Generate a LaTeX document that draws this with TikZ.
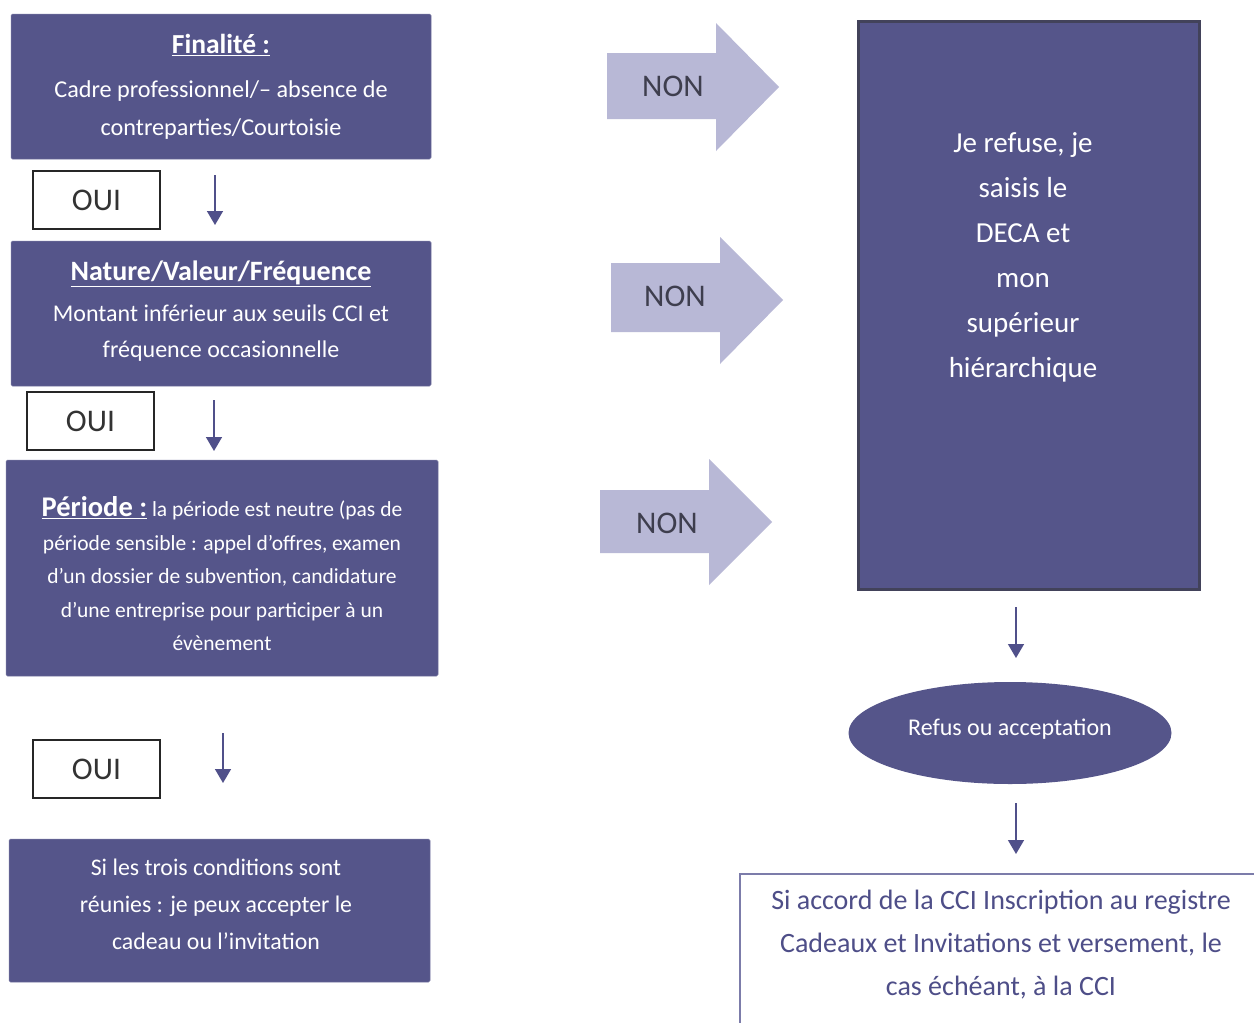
\documentclass[tikz,border=0pt]{standalone}
\usepackage{fontspec}
\setmainfont{Carlito}
\usetikzlibrary{arrows.meta,shapes.geometric}
\definecolor{boxfill}{HTML}{55558A}
\definecolor{arrfill}{HTML}{B8B8D6}
\definecolor{arrline}{HTML}{50508A}
\definecolor{nontext}{HTML}{3E3E4E}
\definecolor{bottext}{HTML}{4E4E88}
\definecolor{botline}{HTML}{7C7CAA}
\definecolor{bigborder}{HTML}{42425A}
\begin{document}
\begin{tikzpicture}[x=1pt,y=-1pt,
 darkbox/.style={draw=boxfill!80!white, line width=0.5pt, fill=boxfill, rounded corners=1.5pt, inner sep=0pt},
 boxtext/.style={text=white, align=center, inner sep=0pt},
 ouibox/.style={draw=black!85, line width=1.2pt, minimum width=127pt, minimum height=58pt, font=\fontsize{31.5}{34}\selectfont, text=black!80, inner sep=0pt},
 flow/.style={draw=arrline, line width=1.5pt, -{Triangle[width=16pt,length=14pt]}},
 nonarrow/.style={fill=arrfill, draw=none},
 nonlabel/.style={font=\fontsize{31.5}{34}\selectfont, text=nontext}]
\useasboundingbox (0,0) rectangle (1254,1023);
\fill[white] (0,0) rectangle (1254,1023);

% left column
\node[darkbox, minimum width=420pt, minimum height=145pt] (b1) at (221,86.5) {};
\node[boxtext, font=\fontsize{24.2}{38}\selectfont] (b1t) at (221,87)
 {{\fontsize{27.5}{38}\selectfont\textbf{\underline{Finalité :}}}\\[6pt]Cadre professionnel/– absence de\\contreparties/Courtoisie};
\node[ouibox] (oui1) at (96.5,200) {OUI};
\coordinate (a1s) at (215,175); \coordinate (a1e) at (215,225);
\draw[flow] (a1s) -- (a1e);

\node[darkbox, minimum width=420pt, minimum height=145pt] (b2) at (221,313.5) {};
\node[boxtext, font=\fontsize{24}{36}\selectfont] (b2t) at (221,311)
 {{\fontsize{28}{36}\selectfont\textbf{\underline{Nature/Valeur/Fréquence}}}\\[5pt]Montant inférieur aux seuils CCI et\\fréquence occasionnelle};
\node[ouibox] (oui2) at (90.5,421) {OUI};
\coordinate (a2s) at (214,400); \coordinate (a2e) at (214,451);
\draw[flow] (a2s) -- (a2e);

\node[darkbox, minimum width=432pt, minimum height=216pt] (b3) at (222,568) {};
\node[boxtext, font=\fontsize{21.5}{33.5}\selectfont] (b3t) at (222,574)
 {{\fontsize{28.5}{33.5}\selectfont\textbf{\underline{Période :}}} la période est neutre (pas de\\période sensible : appel d’offres, examen\\d’un dossier de subvention, candidature\\d’une entreprise pour participer à un\\évènement};
\node[ouibox] (oui3) at (96.5,769) {OUI};
\coordinate (a3s) at (223,733); \coordinate (a3e) at (223,783);
\draw[flow] (a3s) -- (a3e);

\node[darkbox, minimum width=421pt, minimum height=143pt] (b4) at (219.5,910.5) {};
\node[boxtext, font=\fontsize{23.8}{37}\selectfont] (b4t) at (216,904)
 {Si les trois conditions sont\\réunies : je peux accepter le\\cadeau ou l’invitation};

% NON arrows
\fill[nonarrow] (607,53) -- (716,53) -- (716,23) -- (779,87) -- (716,151) -- (716,119) -- (607,119) -- cycle;
\node[nonlabel] (non1) at (673,86) {NON};
\fill[nonarrow] (611,263) -- (720,263) -- (720,237) -- (783,300) -- (720,364) -- (720,332) -- (611,332) -- cycle;
\node[nonlabel] (non2) at (675,296) {NON};
\fill[nonarrow] (600,490) -- (709,490) -- (709,459) -- (772,522) -- (709,585) -- (709,553) -- (600,553) -- cycle;
\node[nonlabel] (non3) at (667,523) {NON};

% right column
\node[draw=bigborder, line width=3pt, fill=boxfill, minimum width=341pt, minimum height=568pt, inner sep=0pt] (big) at (1028.5,305) {};
\node[boxtext, font=\fontsize{29}{45}\selectfont] (bigt) at (1023,257)
 {Je refuse, je\\saisis le\\DECA et\\mon\\supérieur\\hiérarchique};
\coordinate (r1s) at (1016,607); \coordinate (r1e) at (1016,658);
\draw[flow] (r1s) -- (r1e);
\node[ellipse, fill=boxfill, minimum width=323pt, minimum height=102pt, inner sep=0pt] (ell) at (1010,733) {};
\node[boxtext, font=\fontsize{24}{28}\selectfont] (ellt) at (1010,729) {Refus ou acceptation};
\coordinate (r2s) at (1016,803); \coordinate (r2e) at (1016,854);
\draw[flow] (r2s) -- (r2e);

\coordinate (bl) at (740,1023); \coordinate (tl) at (740,874); \coordinate (tr) at (1254,874);
\draw[botline, line width=1.2pt] (bl) -- (tl) -- (tr);
\node[text=bottext, align=center, inner sep=0pt, font=\fontsize{28}{43}\selectfont] (bott) at (1001,945)
 {Si accord de la CCI Inscription au registre\\Cadeaux et Invitations et versement, le\\cas échéant, à la CCI};
\end{tikzpicture}
\end{document}
